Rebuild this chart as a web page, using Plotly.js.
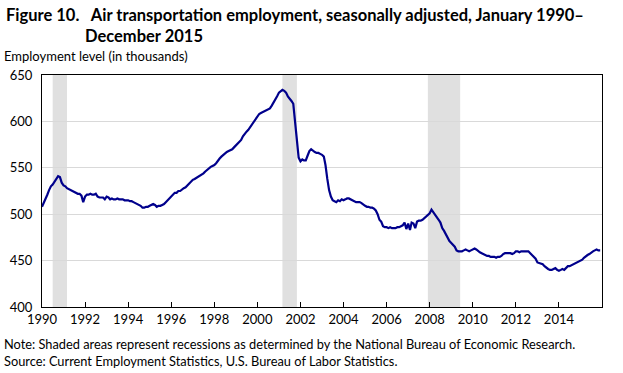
<!DOCTYPE html>
<html>
<head>
<meta charset="utf-8">
<script src="https://cdn.plot.ly/plotly-3.0.1.min.js"></script>
<style>
html,body{margin:0;padding:0;background:#fff;}
#chart{width:623px;height:373px;}
</style>
</head>
<body>
<div id="chart"></div>
<script>
// Data (thousands), monthly Jan 1990 – Dec 2015
const employment = {
  1990: [508,512,516,521,526,530,532,535,538,541,540,534],
  1991: [531,530,528,527,526,525,524,523,522,522,520,513],
  1992: [519,521,521,522,521,521,522,519,518,518,518,516],
  1993: [519,518,516,517,516,516,517,516,516,516,515,515],
  1994: [515,514,514,513,512,511,510,509,507,507,508,508],
  1995: [509,510,511,510,508,509,509,510,511,513,515,517],
  1996: [518,520,523,523,525,525,527,528,529,531,534,535],
  1997: [537,538,539,540,541,543,544,546,548,549,551,552],
  1998: [553,555,558,560,562,564,566,567,568,569,570,572],
  1999: [574,576,578,580,584,587,589,591,594,597,599,602],
  2000: [606,608,609,610,611,612,613,614,617,620,624,627],
  2001: [631,633,634,633,631,627,625,622,619,600,575,561],
  2002: [557,559,558,558,563,568,570,568,567,566,566,565],
  2003: [564,562,553,538,526,519,515,514,513,515,514,516],
  2004: [515,516,517,517,516,515,514,513,513,513,512,510],
  2005: [509,508,508,507,507,506,504,500,494,492,487,486],
  2006: [486,485,486,485,485,485,486,486,487,488,491,484],
  2007: [490,483,491,490,485,492,493,493,494,496,497,499],
  2008: [501,505,502,500,497,494,491,485,482,478,475,471],
  2009: [469,467,465,461,460,460,460,461,462,461,460,461],
  2010: [462,463,462,460,459,458,457,456,455,455,454,454],
  2011: [454,453,454,454,455,457,458,458,458,458,457,458],
  2012: [460,460,459,460,460,460,460,460,458,456,454,452],
  2013: [448,447,447,446,444,442,441,440,440,441,442,440],
  2014: [439,440,441,440,442,444,444,445,446,447,448,449],
  2015: [450,451,453,455,456,457,459,460,461,462,461,461]
};
const recessionStart = ['1990-07-01','2001-03-01','2007-12-01'];
const recessionEnd   = ['1991-03-01','2001-11-01','2009-06-01'];
const xTickYears = [1990,1992,1994,1996,1998,2000,2002,2004,2006,2008,2010,2012,2014];
const yTicks = [400,450,500,550,600,650];

const xs = [], ys = [];
Object.keys(employment).forEach(function(yr){
  employment[yr].forEach(function(v, i){
    xs.push(yr + '-' + String(i+1).padStart(2,'0') + '-01');
    ys.push(v);
  });
});

const FONT = 'Lato, Liberation Sans, Arial, sans-serif';

const shapes = recessionStart.map(function(s, i){
  return {type:'rect', xref:'x', yref:'paper', x0:s, x1:recessionEnd[i], y0:0, y1:1,
          fillcolor:'#e0e0e0', line:{width:0}, layer:'below'};
});

const layout = {
  width:623, height:373,
  margin:{l:42, r:21, t:75, b:66},
  paper_bgcolor:'#fff', plot_bgcolor:'#fff',
  showlegend:false,
  font:{family:FONT, size:13, color:'#000'},
  xaxis:{
    type:'date', range:['1990-01-01','2016-01-01'],
    tickvals: xTickYears.map(function(y){return y+'-01-01';}),
    ticktext: xTickYears.map(String),
    ticks:'inside', ticklen:5, tickcolor:'#000', tickwidth:1,
    showgrid:false, zeroline:false,
    showline:true, mirror:true, linecolor:'#000', linewidth:1,
    tickfont:{family:FONT, size:13, color:'#000'}
  },
  yaxis:{
    range:[400,650], tickvals:yTicks, ticks:'',
    showgrid:true, gridcolor:'#d9d9d9', gridwidth:1, zeroline:false,
    showline:true, mirror:true, linecolor:'#000', linewidth:1,
    tickfont:{family:FONT, size:13, color:'#000'}, ticklabelstandoff:6
  },
  shapes: shapes,
  annotations:[
    {xref:'paper', yref:'paper', x:-0.0675, y:1.2565, xanchor:'left', yanchor:'middle', showarrow:false,
     text:'<b>Figure 10.\u00A0\u00A0\u00A0Air transportation employment, seasonally adjusted, January 1990–</b>',
     font:{family:FONT, size:16.5, color:'#000'}},
    {xref:'paper', yref:'paper', x:0.073, y:1.1700, xanchor:'left', yanchor:'middle', showarrow:false,
     text:'<b>December 2015</b>', font:{family:FONT, size:16.5, color:'#000'}},
    {xref:'paper', yref:'paper', x:-0.071, y:1.0820, xanchor:'left', yanchor:'middle', showarrow:false,
     text:'Employment level (in thousands)', font:{family:FONT, size:13, color:'#000'}},
    {xref:'paper', yref:'paper', x:-0.071, y:-0.116, xanchor:'left', yanchor:'top', showarrow:false, align:'left',
     text:'Note: Shaded areas represent recessions as determined by the National Bureau of Economic Research.<br>Source: Current Employment Statistics, U.S. Bureau of Labor Statistics.',
     font:{family:FONT, size:12.8, color:'#000'}}
  ]
};

Plotly.newPlot('chart', [{
  x: xs, y: ys, type:'scatter', mode:'lines',
  line:{color:'#00008c', width:2.2}, hoverinfo:'skip'
}], layout, {staticPlot:true, displayModeBar:false});
</script>
</body>
</html>
